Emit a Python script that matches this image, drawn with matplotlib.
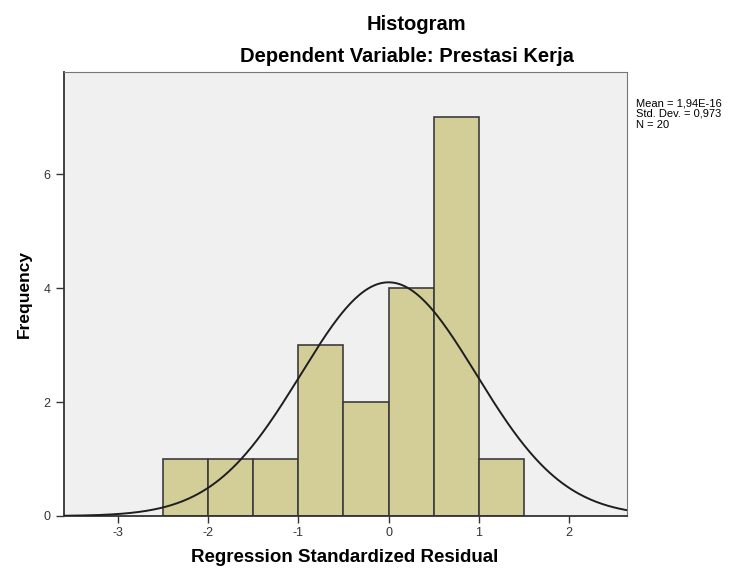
import numpy as np
import matplotlib
matplotlib.use("Agg")
import matplotlib.pyplot as plt

bin_edges = [-2.5, -2.0, -1.5, -1.0, -0.5, 0.0, 0.5, 1.0, 1.5]
counts = [1, 1, 1, 3, 2, 4, 7, 1]
mean = 1.94e-16
std = 0.973
n = 20
x_ticks = [-3, -2, -1, 0, 1, 2]
y_ticks = [0, 2, 4, 6]

plt.rcParams['font.family'] = ['Liberation Sans', 'DejaVu Sans']
plt.rcParams['axes.unicode_minus'] = False

fig = plt.figure(figsize=(7.48, 5.71), dpi=100)
ax = fig.add_axes([64/748, 55/571, (627-64)/748, (516-72)/571])
ax.set_facecolor('#F0F0F0')

widths = np.diff(bin_edges)
ax.bar(bin_edges[:-1], counts, width=widths, align='edge',
       color='#D3CE98', edgecolor='#3C3C3C', linewidth=1.2, zorder=2)

xs = np.linspace(-3.6, 2.65, 400)
bw = 0.5
ys = n * bw * np.exp(-0.5 * ((xs - mean) / std) ** 2) / (std * np.sqrt(2 * np.pi))
ax.plot(xs, ys, color='#1E1E1E', linewidth=1.4, zorder=3)

ax.set_xlim(-3.6, 2.645)
ax.set_ylim(0, 7.79)
ax.set_xticks(x_ticks)
ax.set_yticks(y_ticks)
ax.tick_params(axis='both', labelsize=9, colors='#333333', length=6, width=1)
ax.tick_params(axis='x', length=5, pad=3)
for s in ['left', 'bottom']:
    ax.spines[s].set_color('#333333')
    ax.spines[s].set_linewidth(1.3)
for s in ['top', 'right']:
    ax.spines[s].set_color('#777777')
    ax.spines[s].set_linewidth(0.8)

fig.text(345/748, 1 - 558/571, 'Regression Standardized Residual', ha='center', va='center',
         fontsize=13.5, fontweight='bold')
fig.text(24/748, 1 - 294/571, 'Frequency', ha='center', va='center', rotation=90,
         fontsize=12.5, fontweight='bold')

fig.text(416/748, 1 - 24/571, 'Histogram', ha='center', va='center', fontsize=14.5, fontweight='bold')
fig.text(407/748, 1 - 57/571, 'Dependent Variable: Prestasi Kerja', ha='center', va='center',
         fontsize=14.5, fontweight='bold')

stats = ['Mean = 1,94E-16', 'Std. Dev. = 0,973', 'N = 20']
for i, s in enumerate(stats):
    fig.text(636/748, 1 - (103 + 11 * i)/571, s, ha='left', va='center', fontsize=8)

fig.savefig('out.png', dpi=100)
